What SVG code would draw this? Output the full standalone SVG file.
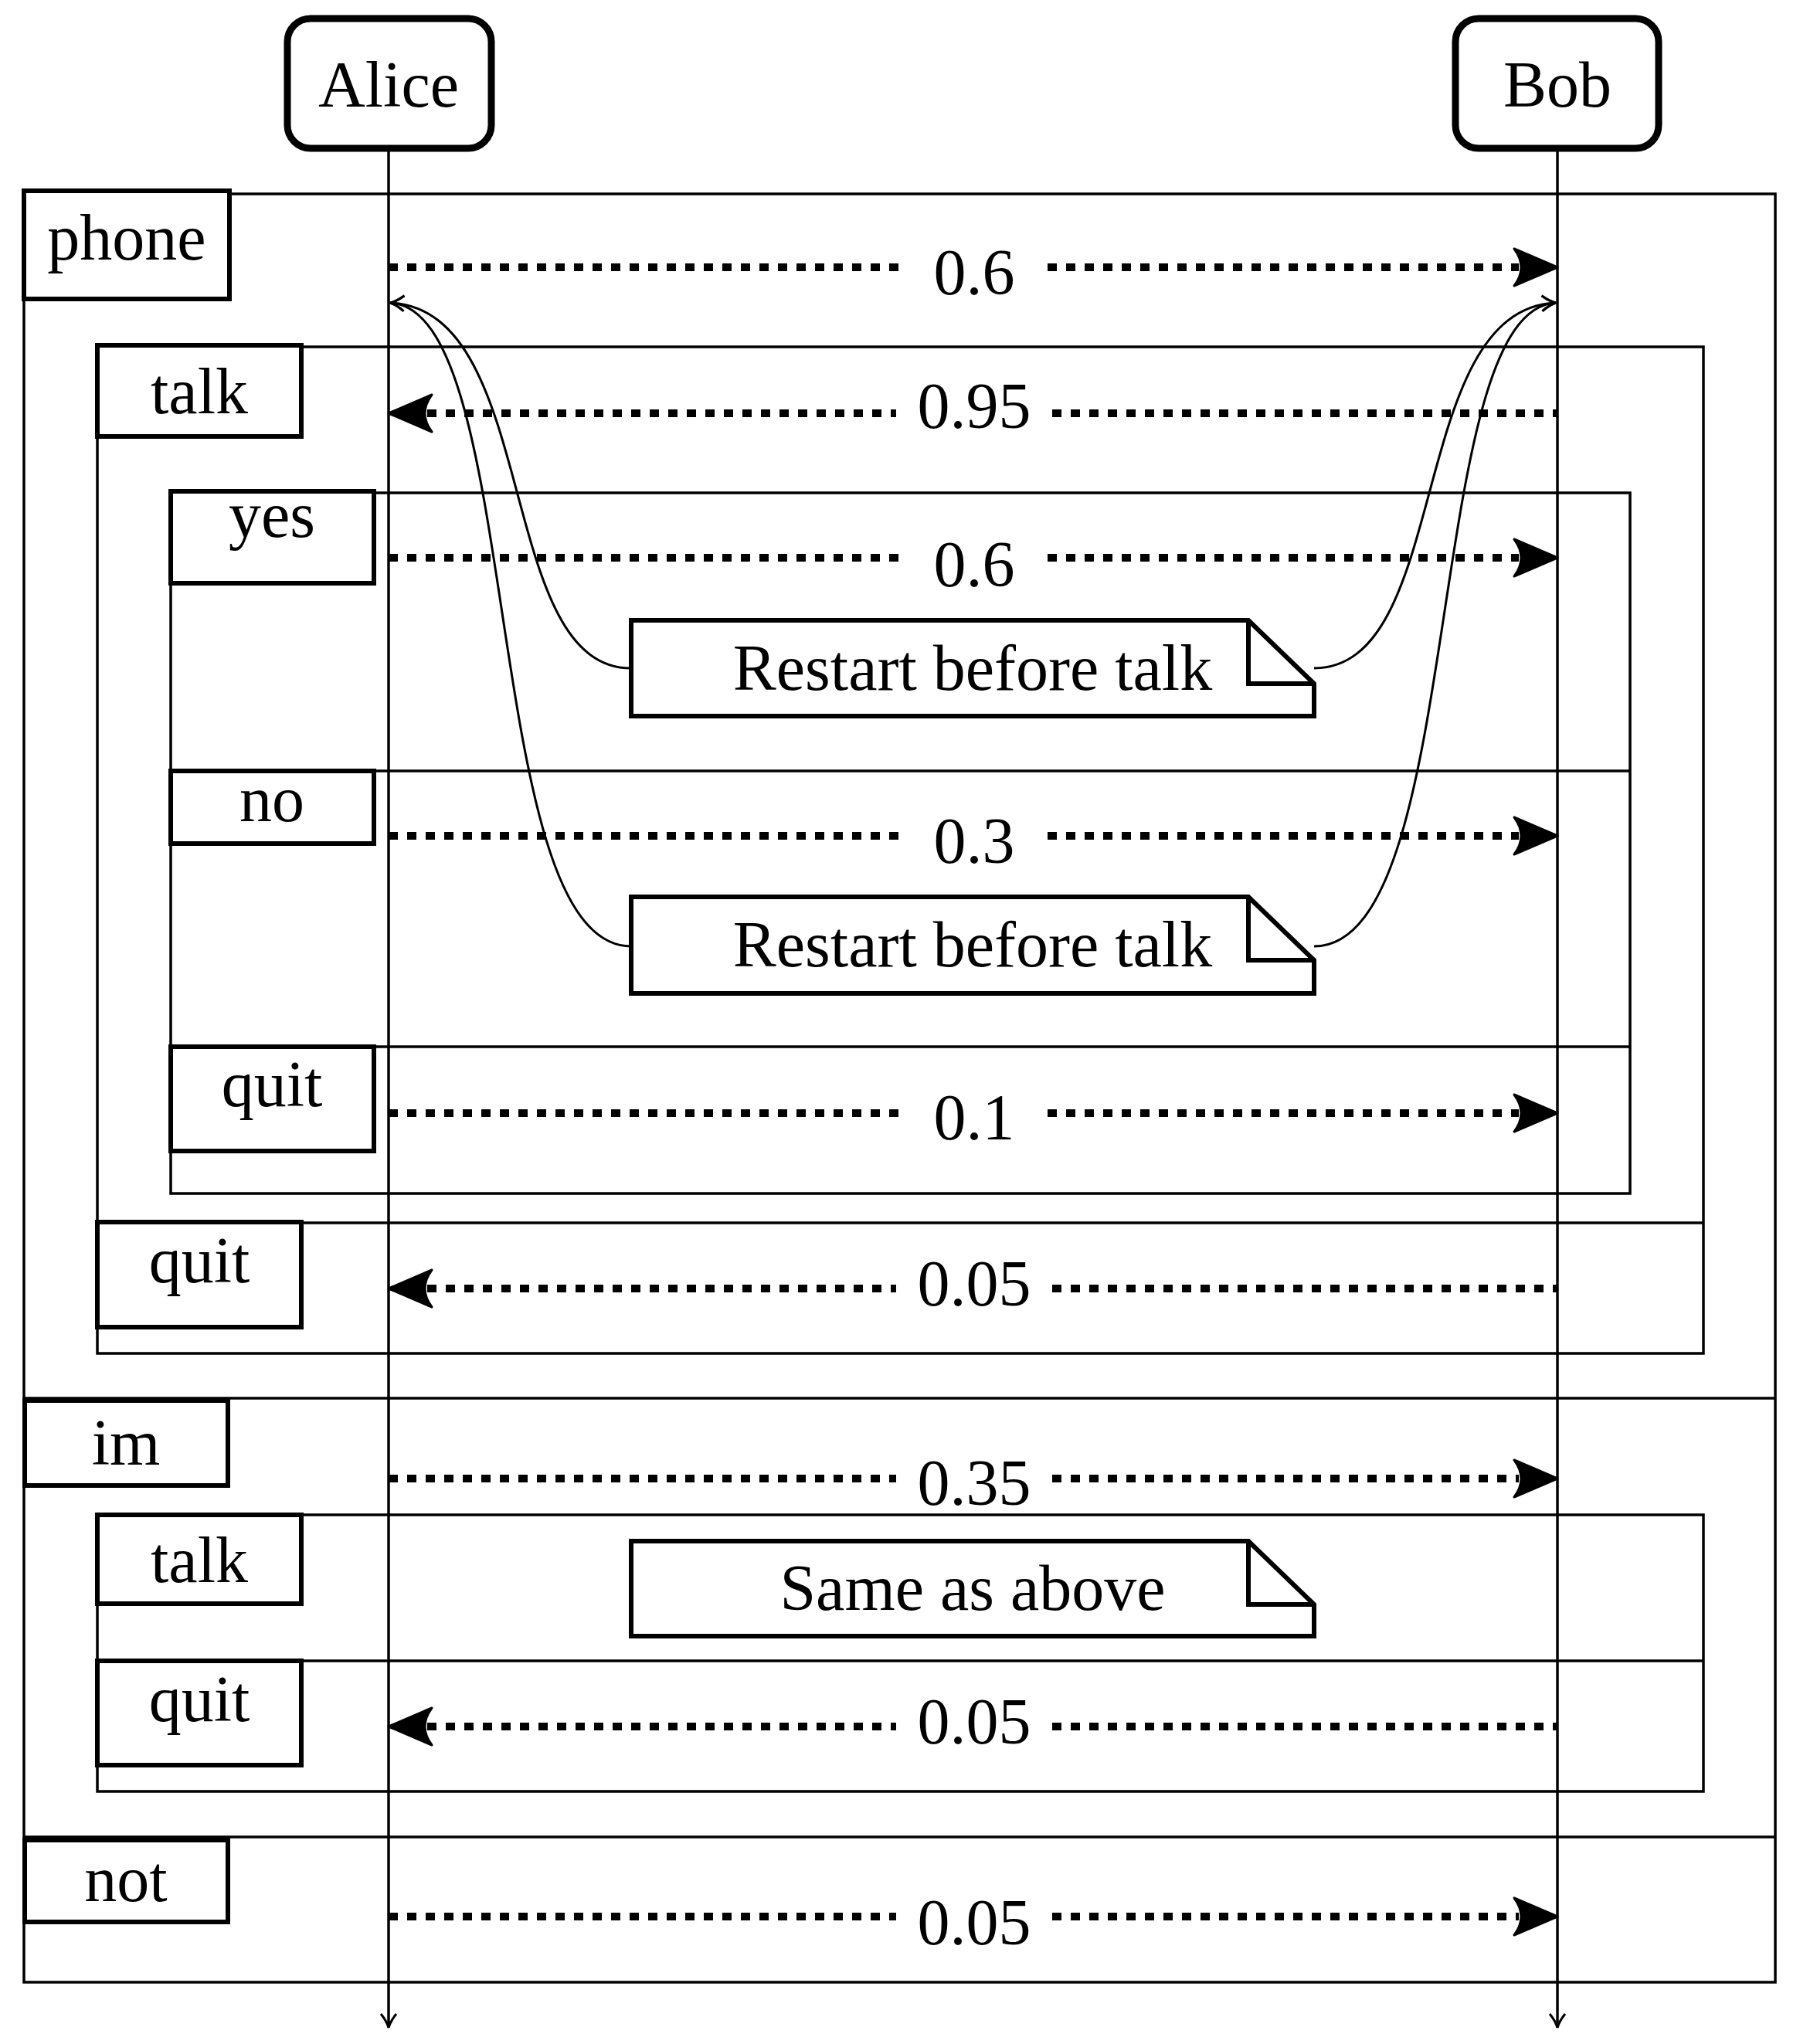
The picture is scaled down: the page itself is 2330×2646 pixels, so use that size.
<svg xmlns="http://www.w3.org/2000/svg" width="2330" height="2646" viewBox="0 0 2330 2646">
<defs>
<style>
text{font-family:"Liberation Serif","Times New Roman",serif;font-size:84px;fill:#000;text-anchor:middle}
.frame{fill:none;stroke:#000;stroke-width:3.5}
.lab{fill:#fff;stroke:#000;stroke-width:6}
.actor{fill:#fff;stroke:#000;stroke-width:9}
.life{fill:none;stroke:#000;stroke-width:3.5}
.msg{fill:none;stroke:#000;stroke-width:10;stroke-dasharray:12 12}
.head{fill:#000;stroke:#000;stroke-width:3;stroke-linejoin:round}
.curve{fill:none;stroke:#000;stroke-width:3}
.note{fill:#fff;stroke:#000;stroke-width:6}
</style>
<marker id="open" viewBox="-20 -12 24 24" markerWidth="24" markerHeight="24" refX="0" refY="0" orient="auto" markerUnits="userSpaceOnUse">
<path d="M-18,-10 Q-8,-2 0,0 Q-8,2 -18,10" fill="none" stroke="#000" stroke-width="3"/>
</marker>
</defs>
<g id="frames">
<rect class="frame" x="31" y="251" width="2267" height="2315"/>
<line class="frame" x1="31" y1="1810" x2="2298" y2="1810"/>
<line class="frame" x1="31" y1="2378" x2="2298" y2="2378"/>
<rect class="frame" x="126" y="449" width="2079" height="1303"/>
<line class="frame" x1="126" y1="1583" x2="2205" y2="1583"/>
<rect class="frame" x="221" y="638" width="1889" height="907"/>
<line class="frame" x1="221" y1="998" x2="2110" y2="998"/>
<line class="frame" x1="221" y1="1355" x2="2110" y2="1355"/>
<rect class="frame" x="126" y="1961" width="2079" height="358"/>
<line class="frame" x1="126" y1="2150" x2="2205" y2="2150"/>
</g>
<g id="lifelines">
<line class="life" x1="503" y1="193" x2="503" y2="2625" marker-end="url(#open)"/>
<line class="life" x1="2016" y1="193" x2="2016" y2="2625" marker-end="url(#open)"/>
</g>
<g id="alice"><rect class="actor" x="372" y="24" width="264" height="168" rx="30"/><text x="503" y="138">Alice</text></g>
<g id="bob"><rect class="actor" x="1884" y="24" width="263" height="168" rx="30"/><text x="2016" y="138">Bob</text></g>
<g id="labels">
<g id="l-phone"><rect class="lab" x="31" y="247" width="266" height="140"/><text x="164" y="336">phone</text></g>
<g id="l-talk1"><rect class="lab" x="126" y="447" width="264" height="118"/><text x="258" y="535">talk</text></g>
<g id="l-yes"><rect class="lab" x="221" y="636" width="263" height="119"/><text x="352" y="695">yes</text></g>
<g id="l-no"><rect class="lab" x="221" y="998" width="263" height="94"/><text x="352" y="1063">no</text></g>
<g id="l-quit1"><rect class="lab" x="221" y="1355" width="263" height="135"/><text x="352" y="1432">quit</text></g>
<g id="l-quit2"><rect class="lab" x="126" y="1582" width="264" height="136"/><text x="258" y="1660">quit</text></g>
<g id="l-im"><rect class="lab" x="32" y="1813" width="263" height="110"/><text x="163" y="1896">im</text></g>
<g id="l-talk2"><rect class="lab" x="126" y="1961" width="264" height="115"/><text x="258" y="2048">talk</text></g>
<g id="l-quit3"><rect class="lab" x="126" y="2150" width="264" height="135"/><text x="258" y="2228">quit</text></g>
<g id="l-not"><rect class="lab" x="32" y="2382" width="263" height="106"/><text x="163" y="2461">not</text></g>
</g>
<g id="notes">
<g id="note1"><path class="note" d="M817,803 H1616 L1701,885 V927 H817 Z M1616,803 V885 H1701"/><text x="1259" y="893">Restart before talk</text></g>
<g id="note2"><path class="note" d="M817,1161 H1616 L1701,1243 V1286 H817 Z M1616,1161 V1243 H1701"/><text x="1259" y="1251">Restart before talk</text></g>
<g id="note3"><path class="note" d="M817,1995 H1616 L1701,2077 V2118 H817 Z M1616,1995 V2077 H1701"/><text x="1259" y="2084">Same as above</text></g>
</g>
<g id="connectors">
<path class="msg" d="M503,346 H1166 M1356,346 H1966"/>
<path class="head" d="M2016,346 L1960,322 Q1978,346 1960,370 Z"/>
<text x="1261" y="381">0.6</text>
<path class="msg" d="M553,535 H1160 M1362,535 H2016"/>
<path class="head" d="M503,535 L559,511 Q541,535 559,559 Z"/>
<text x="1261" y="554">0.95</text>
<path class="msg" d="M503,722 H1166 M1356,722 H1966"/>
<path class="head" d="M2016,722 L1960,698 Q1978,722 1960,746 Z"/>
<text x="1261" y="759">0.6</text>
<path class="msg" d="M503,1082 H1166 M1356,1082 H1966"/>
<path class="head" d="M2016,1082 L1960,1058 Q1978,1082 1960,1106 Z"/>
<text x="1261" y="1117">0.3</text>
<path class="msg" d="M503,1441 H1166 M1356,1441 H1966"/>
<path class="head" d="M2016,1441 L1960,1417 Q1978,1441 1960,1465 Z"/>
<text x="1261" y="1475">0.1</text>
<path class="msg" d="M553,1668 H1160 M1362,1668 H2016"/>
<path class="head" d="M503,1668 L559,1644 Q541,1668 559,1692 Z"/>
<text x="1261" y="1690">0.05</text>
<path class="msg" d="M503,1914 H1160 M1362,1914 H1966"/>
<path class="head" d="M2016,1914 L1960,1890 Q1978,1914 1960,1938 Z"/>
<text x="1261" y="1948">0.35</text>
<path class="msg" d="M553,2235 H1160 M1362,2235 H2016"/>
<path class="head" d="M503,2235 L559,2211 Q541,2235 559,2259 Z"/>
<text x="1261" y="2257">0.05</text>
<path class="msg" d="M503,2481 H1160 M1362,2481 H1966"/>
<path class="head" d="M2016,2481 L1960,2457 Q1978,2481 1960,2505 Z"/>
<text x="1261" y="2517">0.05</text>
<path class="curve" d="M817,865 C640,865 700,400 505,392" marker-end="url(#open)"/>
<path class="curve" d="M817,1225 C620,1225 680,400 505,392" marker-end="url(#open)"/>
<path class="curve" d="M1701,865 C1880,865 1820,400 2014,392" marker-end="url(#open)"/>
<path class="curve" d="M1701,1225 C1900,1225 1840,400 2014,392" marker-end="url(#open)"/>
</g>
</svg>
